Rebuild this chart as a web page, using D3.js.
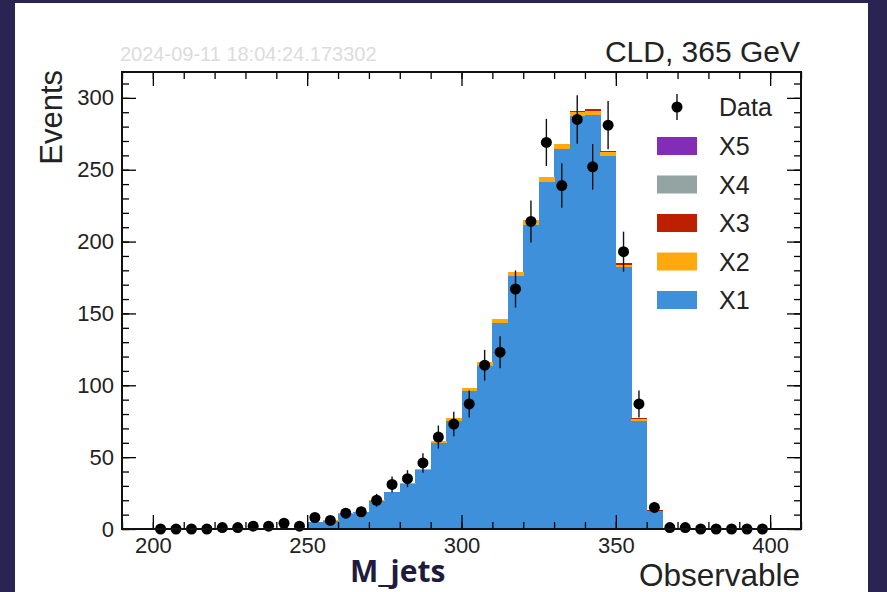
<!DOCTYPE html>
<html>
<head>
<meta charset="utf-8">
<script src="https://cdn.jsdelivr.net/npm/d3@7/dist/d3.min.js"></script>
<style>
  body { margin: 0; background: #2a2452; }
  svg { display: block; }
  .root-text { font-family: "Liberation Sans", Arial, sans-serif; fill: #000; }
</style>
</head>
<body>
<div id="canvasArea"></div>
<script>
// bin lower edges, 5 wide
var binLow = [200,205,210,215,220,225,230,235,240,245,
	250,255,260,265,270,275,280,285,290,295,
	300,305,310,315,320,325,330,335,340,345,
	350,355,360,365,370,375,380,385,390,395];
var binWidth = 5;

// observed events per bin
var dataCounts = [0,0,0,0,1,1,2,2,4,2,
	8,6,11,12,20,31,35,46,64,73,
	87,114,123,167,214,269,239,285,252,281,
	193,87,15,1,1,0,0,0,0,0];

// stacked expectation, bottom to top
var x1Vals = [0,0,0,0,0,0,0,0,0,0,
	4.8,5.8,10.7,11.7,19.5,25.4,31.2,41,59.6,75.2,
	96,113.5,143.3,175.9,211.8,241.6,264.5,287.4,288.4,259.6,
	182,75.2,12.5,0,0,0,0,0,0,0];
var x2Vals = [0,0,0,0,0,0,0,0,0,0,
	0.2,0.2,0.3,0.3,0.5,0.6,0.8,1,1.4,1.8,
	2,2.5,2.6,3,3,3.2,3.2,3,2.8,2.6,
	2,1,0.3,0,0,0,0,0,0,0];
var x3Vals = [0,0,0,0,0,0,0,0,0,0,
	0,0,0,0,0,0,0,0,0,0,
	0,0,0.1,0.1,0.2,0.2,0.3,0.6,0.8,0.8,
	1,0.8,0.2,0,0,0,0,0,0,0];
var x4Vals = [0,0,0,0,0,0,0,0,0,0,
	0,0,0,0,0,0,0,0,0,0,
	0,0,0,0,0,0,0,0,0,0,
	0,0,0,0,0,0,0,0,0,0];
var x5Vals = [0,0,0,0,0,0,0,0,0,0,
	0,0,0,0,0,0,0,0,0,0,
	0,0,0,0,0,0,0,0,0,0,
	0,0,0,0,0,0,0,0,0,0];

var seriesNames = ["X1","X2","X3","X4","X5"];
var seriesColors = ["#3f90da","#ffa90e","#bd1f01","#94a4a2","#832db6"];

var xMajorTicks = [200,250,300,350,400];
var yMajorTicks = [0,50,100,150,200,250,300];

var titleText = "CLD, 365 GeV";
var stampText = "2024-09-11 18:04:24.173302";

var 	width = 887,
	height = 592,
	frameL = 122,
	frameR = 801,
	frameT = 72,
	frameB = 529;

var svg = d3.select("#canvasArea").append("svg")
	.attr("width", width)
	.attr("height", height);

// slide background + white panel
svg.append("rect")
	.attr("width", width)
	.attr("height", height)
	.style("fill", "#2a2452");
svg.append("rect")
	.attr("x", 15)
	.attr("y", 3)
	.attr("width", 853)
	.attr("height", height - 3)
	.style("fill", "#ffffff");

var x = d3.scaleLinear().domain([190, 410]).range([frameL, frameR]);
var y = d3.scaleLinear().domain([0, 318]).range([frameB, frameT]);

/////////////////////////////
// stack
/////////////////////////////
var rows = binLow.map(function(lo, i) {
	return { lo: lo, X1: x1Vals[i], X2: x2Vals[i], X3: x3Vals[i], X4: x4Vals[i], X5: x5Vals[i] };
});
var stacked = d3.stack().keys(seriesNames)(rows);

var layer = svg.append("g").selectAll("g")
	.data(stacked)
	.enter().append("g")
	.style("fill", function(d, i) { return seriesColors[i]; });

layer.selectAll("rect")
	.data(function(d) { return d; })
	.enter().append("rect")
	.attr("shape-rendering", "crispEdges")
	.attr("x", function(d) { return x(d.data.lo); })
	.attr("width", function(d) { return x(d.data.lo + binWidth) - x(d.data.lo) + 0.5; })
	.attr("y", function(d) { return y(d[1]); })
	.attr("height", function(d) { return Math.max(0, y(d[0]) - y(d[1])); });

/////////////////////////////
// axes, ROOT style ticks inside
/////////////////////////////
function styleAxis(g) {
	g.select(".domain").remove();
	g.selectAll(".tick line").style("stroke", "#000").style("stroke-width", 1.3);
	g.selectAll("text").attr("class", "root-text").attr("font-size", 22).style("fill", "#222");
}

svg.append("g")
	.attr("transform", "translate(0," + frameB + ")")
	.call(d3.axisBottom(x).ticks(22).tickSize(-7).tickFormat(""))
	.call(styleAxis);
svg.append("g")
	.attr("transform", "translate(0," + frameB + ")")
	.call(d3.axisBottom(x).tickValues(xMajorTicks).tickSize(-14).tickPadding(8))
	.call(styleAxis);
svg.append("g")
	.attr("transform", "translate(0," + frameT + ")")
	.call(d3.axisTop(x).ticks(22).tickSize(-7).tickFormat(""))
	.call(styleAxis);
svg.append("g")
	.attr("transform", "translate(0," + frameT + ")")
	.call(d3.axisTop(x).tickValues(xMajorTicks).tickSize(-14).tickFormat(""))
	.call(styleAxis);

svg.append("g")
	.attr("transform", "translate(" + frameL + ",0)")
	.call(d3.axisLeft(y).ticks(32).tickSize(-7).tickFormat(""))
	.call(styleAxis);
svg.append("g")
	.attr("transform", "translate(" + frameL + ",0)")
	.call(d3.axisLeft(y).tickValues(yMajorTicks).tickSize(-14).tickPadding(8))
	.call(styleAxis);
svg.append("g")
	.attr("transform", "translate(" + frameR + ",0)")
	.call(d3.axisRight(y).ticks(32).tickSize(-7).tickFormat(""))
	.call(styleAxis);
svg.append("g")
	.attr("transform", "translate(" + frameR + ",0)")
	.call(d3.axisRight(y).tickValues(yMajorTicks).tickSize(-14).tickFormat(""))
	.call(styleAxis);

/////////////////////////////
// data points
/////////////////////////////
var pts = svg.append("g");
var binMid = function(i) { return x(binLow[i] + binWidth / 2); };

pts.selectAll("line")
	.data(dataCounts.map(function(n, i) { return { n: n, i: i }; }).filter(function(d) { return d.n > 0; }))
	.enter().append("line")
	.attr("x1", function(d) { return binMid(d.i); })
	.attr("x2", function(d) { return binMid(d.i); })
	.attr("y1", function(d) { return y(d.n - Math.sqrt(d.n)); })
	.attr("y2", function(d) { return y(d.n + Math.sqrt(d.n)); })
	.style("stroke", "#111")
	.style("stroke-width", 1.4);

pts.selectAll("circle")
	.data(dataCounts)
	.enter().append("circle")
	.attr("cx", function(d, i) { return binMid(i); })
	.attr("cy", function(d) { return y(d); })
	.attr("r", 5.5)
	.style("fill", "#000");

// frame
svg.append("rect")
	.attr("x", frameL)
	.attr("y", frameT)
	.attr("width", frameR - frameL)
	.attr("height", frameB - frameT)
	.style("fill", "none")
	.style("stroke", "#111")
	.style("stroke-width", 2);

/////////////////////////////
// legend
/////////////////////////////
var leg = svg.append("g");
var legRows = [{ name: "Data", y: 107 }];
seriesNames.slice().reverse().forEach(function(s, k) {
	legRows.push({ name: s, y: 146 + k * 38.5, color: seriesColors[seriesNames.indexOf(s)] });
});

leg.append("line")
	.attr("x1", 677).attr("x2", 677)
	.attr("y1", 94).attr("y2", 120)
	.style("stroke", "#111")
	.style("stroke-width", 1.4);
leg.append("circle")
	.attr("cx", 677).attr("cy", 107).attr("r", 5.5)
	.style("fill", "#000");

leg.selectAll("rect")
	.data(legRows.slice(1))
	.enter().append("rect")
	.attr("x", 657)
	.attr("y", function(d) { return d.y - 9; })
	.attr("width", 40)
	.attr("height", 18)
	.style("fill", function(d) { return d.color; });

leg.selectAll("text")
	.data(legRows)
	.enter().append("text")
	.attr("class", "root-text")
	.attr("x", 719)
	.attr("y", function(d) { return d.y + 9; })
	.attr("font-size", 25)
	.style("fill", "#222")
	.text(function(d) { return d.name; });

/////////////////////////////
// titles
/////////////////////////////
svg.append("text")
	.attr("class", "root-text")
	.attr("x", 800)
	.attr("y", 62)
	.attr("text-anchor", "end")
	.attr("font-size", 30)
	.style("fill", "#222")
	.text(titleText);

svg.append("text")
	.attr("class", "root-text")
	.attr("x", 120)
	.attr("y", 61)
	.attr("font-size", 20)
	.style("fill", "#dcdcdc")
	.text(stampText);

svg.append("text")
	.attr("class", "root-text")
	.attr("transform", "translate(62,70) rotate(-90)")
	.attr("text-anchor", "end")
	.attr("font-size", 31)
	.style("fill", "#222")
	.text("Events");

svg.append("text")
	.attr("class", "root-text")
	.attr("x", 800)
	.attr("y", 586)
	.attr("text-anchor", "end")
	.attr("font-size", 31.5)
	.style("fill", "#222")
	.text("Observable");

// slide annotation under the axis
svg.append("text")
	.attr("x", 350)
	.attr("y", 582)
	.style("font-family", "'Open Sans', sans-serif")
	.style("font-weight", "bold")
	.attr("font-size", 30)
	.style("fill", "#1e1b3d")
	.text("M_jets");
</script>
</body>
</html>
